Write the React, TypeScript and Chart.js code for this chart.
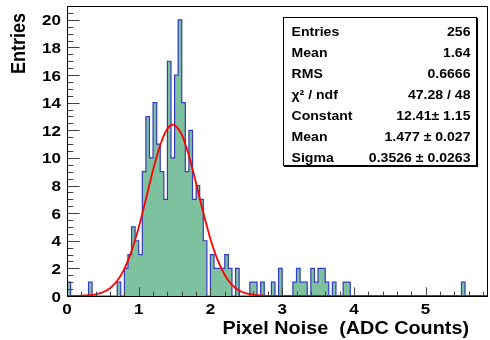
import React, { useEffect, useRef } from "react";
import { Chart, registerables } from "chart.js";

Chart.register(...registerables);

// ---- data ----
const BIN_WIDTH = 0.05;
const X_MIN = 0;
const X_MAX = 5.87;
const Y_MIN = 0;
const Y_MAX = 21;

// histogram counts, bins of 0.05 starting at 0
const binCounts = [
  1, 0, 0, 0, 0, 0, 1, 0, 0, 0, 0, 0, 0, 0, 1, 0, 2, 3, 5, 4,
  3, 9, 13, 10, 14, 11, 9, 7, 17, 10, 16, 20, 14, 9, 12, 7, 8, 7, 4, 0,
  3, 2, 2, 2, 3, 2, 0, 2, 0, 0, 0, 1, 1, 0, 1, 0, 0, 1, 0, 2,
  0, 0, 0, 1, 2, 1, 1, 0, 2, 1, 2, 2, 1, 0, 1, 0, 0, 1, 1, 0,
  0, 0, 0, 0, 0, 0, 0, 0, 0, 0, 0, 0, 0, 0, 0, 0, 0, 0, 0, 0,
  0, 0, 0, 0, 0, 0, 0, 0, 0, 0, 1, 0, 0, 0, 0, 0, 0, 0,
];

// red fit curve
const fitX = [0, 0.2, 0.4, 0.5, 0.6, 0.7, 0.8, 0.9, 1.0, 1.1, 1.2, 1.3, 1.4, 1.48, 1.5, 1.6, 1.7, 1.8, 1.9, 2.0, 2.1, 2.2, 2.3, 2.4, 2.5, 2.6, 2.8, 3.0, 5.87];
const fitY = [0, 0.02, 0.12, 0.27, 0.56, 1.1, 1.97, 3.25, 4.97, 7.01, 9.12, 10.94, 12.12, 12.41, 12.38, 11.68, 10.16, 8.16, 6.04, 4.13, 2.61, 1.52, 0.81, 0.4, 0.19, 0.08, 0.01, 0, 0];

const xTickLabels = [0, 1, 2, 3, 4, 5];
const yTickLabels = [0, 2, 4, 6, 8, 10, 12, 14, 16, 18, 20];
const X_MINOR_STEP = 0.2;
const Y_MINOR_STEP = 0.5;

const X_TITLE = "Pixel Noise  (ADC Counts)";
const Y_TITLE = "Entries";

const statsLabels = ["Entries", "Mean", "RMS", "\u03C7\u00B2 / ndf", "Constant", "Mean", "Sigma"];
const statsValues = ["256", "1.64", "0.6666", "47.28 / 48", "12.41\u00B1 1.15", "1.477 \u00B1 0.027", "0.3526 \u00B1 0.0263"];

// ---- style ----
const FONT_FAMILY = '"Liberation Sans", Arial, Helvetica, sans-serif';
const SX = 1.1; // horizontal text stretch
const FILL_GREEN = "rgb(126,193,159)";
const LINE_BLUE = "rgb(50,60,190)";
const FIT_RED = "rgb(255,0,0)";

function drawText(ctx: CanvasRenderingContext2D, text: string, x: number, y: number, size: number, align: CanvasTextAlign) {
  ctx.save();
  ctx.translate(x, y);
  ctx.scale(SX, 1);
  ctx.font = `bold ${size}px ${FONT_FAMILY}`;
  ctx.textAlign = align;
  ctx.textBaseline = "alphabetic";
  ctx.fillText(text, 0, 0);
  ctx.restore();
}

const rootDecor = {
  id: "rootDecor",
  afterDatasetsDraw(chart: any) {
    const { ctx, chartArea: a, scales } = chart;
    const xs = scales.x;
    const ys = scales.y;
    const L = Math.round(a.left);
    const R = Math.round(a.right);
    const T = Math.round(a.top);
    const B = Math.round(a.bottom);
    ctx.save();
    // ticks
    ctx.strokeStyle = "#444";
    ctx.lineWidth = 1;
    const plotH = B - T;
    const plotW = R - L;
    const xMaj = 0.03 * plotH;
    const yMaj = 0.03 * plotW;
    ctx.beginPath();
    for (let i = 0; X_MIN + i * X_MINOR_STEP <= X_MAX + 1e-9; i++) {
      const v = X_MIN + i * X_MINOR_STEP;
      const isMajor = Math.abs(v - Math.round(v)) < 1e-6;
      const px = Math.round(xs.getPixelForValue(v)) + 0.5;
      ctx.moveTo(px, B);
      ctx.lineTo(px, B - (isMajor ? xMaj : xMaj / 2));
    }
    for (let i = 0; Y_MIN + i * Y_MINOR_STEP <= Y_MAX + 1e-9; i++) {
      const v = Y_MIN + i * Y_MINOR_STEP;
      const isMajor = Math.abs(v / 2 - Math.round(v / 2)) < 1e-6;
      const py = Math.round(ys.getPixelForValue(v)) + 0.5;
      ctx.moveTo(L, py);
      ctx.lineTo(L + (isMajor ? yMaj : yMaj / 2), py);
    }
    ctx.stroke();
    // frame
    ctx.strokeStyle = "#000";
    ctx.strokeRect(L + 0.5, T + 0.5, R - L - 1, B - T);
    // tick labels
    ctx.fillStyle = "#000";
    xTickLabels.forEach((v) => {
      drawText(ctx, String(v), xs.getPixelForValue(v), B + 18, 15.5, "center");
    });
    yTickLabels.forEach((v) => {
      drawText(ctx, String(v), L - 6, ys.getPixelForValue(v) + 5.5, 15.5, "right");
    });
    // axis titles
    drawText(ctx, X_TITLE, 469, 334, 18, "right");
    ctx.save();
    ctx.translate(25, 13);
    ctx.scale(SX, 1);
    ctx.rotate(-Math.PI / 2);
    ctx.font = `bold 18px ${FONT_FAMILY}`;
    ctx.textAlign = "right";
    ctx.textBaseline = "alphabetic";
    ctx.fillText(Y_TITLE, 0, 0);
    ctx.restore();
    ctx.restore();
  },
  afterDraw(chart: any) {
    const { ctx } = chart;
    const bx = 283, by = 17, bw = 194, bh = 149;
    ctx.save();
    ctx.fillStyle = "#000";
    ctx.fillRect(bx + 1, by + 1, bw, bh);
    ctx.fillStyle = "#fff";
    ctx.fillRect(bx, by, bw, bh);
    ctx.strokeStyle = "#000";
    ctx.lineWidth = 1;
    ctx.strokeRect(bx + 0.5, by + 0.5, bw - 1, bh - 1);
    ctx.fillStyle = "#000";
    const step = 21;
    statsLabels.forEach((lab, i) => {
      const base = by + 14 + step * i + 4.6;
      drawText(ctx, lab, bx + 8.5, base, 12.8, "left");
      drawText(ctx, statsValues[i], bx + bw - 6.5, base, 12.8, "right");
    });
    ctx.restore();
  },
};

export default function App() {
  const canvasRef = useRef<HTMLCanvasElement | null>(null);

  useEffect(() => {
    if (!canvasRef.current) return;
    const histData = binCounts.map((c, i) => ({ x: X_MIN + i * BIN_WIDTH, y: c }));
    histData.push({ x: X_MIN + binCounts.length * BIN_WIDTH, y: 0 });
    const fitData = fitX.map((x, i) => ({ x, y: fitY[i] }));

    const chart = new Chart(canvasRef.current, {
      type: "line",
      data: {
        datasets: [
          {
            label: "fit",
            data: fitData,
            borderColor: FIT_RED,
            borderWidth: 1.8,
            pointRadius: 0,
            fill: false,
            cubicInterpolationMode: "monotone",
            order: 0,
          },
          {
            label: "hist",
            data: histData,
            borderColor: LINE_BLUE,
            backgroundColor: FILL_GREEN,
            borderWidth: 1.2,
            pointRadius: 0,
            stepped: "before",
            fill: "origin",
            tension: 0,
            order: 1,
          },
        ],
      },
      options: {
        animation: false,
        responsive: false,
        maintainAspectRatio: false,
        layout: { padding: { left: 67, right: 2, top: 6, bottom: 44 } },
        plugins: {
          legend: { display: false },
          tooltip: { enabled: false },
        },
        scales: {
          x: { type: "linear", min: X_MIN, max: X_MAX, display: false },
          y: { type: "linear", min: Y_MIN, max: Y_MAX, display: false },
        },
      },
      plugins: [rootDecor],
    } as any);
    return () => chart.destroy();
  }, []);

  return (
    <div style={{ position: "absolute", left: 0, top: 0, width: 490, height: 340, background: "#fff" }}>
      <canvas ref={canvasRef} width={490} height={340} style={{ display: "block" }} />
    </div>
  );
}
